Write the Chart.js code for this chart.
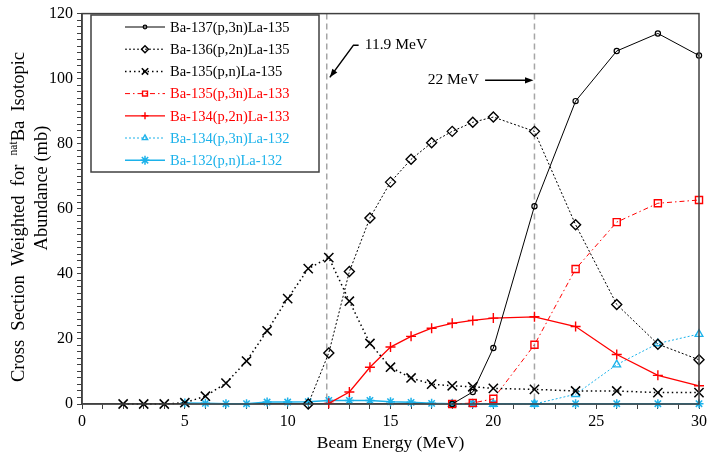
<!DOCTYPE html>
<html>
<head>
    <meta charset="utf-8" />
    <style>
        html, body { margin: 0; padding: 0; background: #fff; }
        #wrap { width: 710px; height: 458px; }
    </style>
</head>
<body>
    <div id="wrap"><canvas id="chart" width="710" height="458"></canvas></div>

    <script src="https://cdn.jsdelivr.net/npm/chart.js"></script>
    <script type="text/javascript">
        // Energias (MeV) y secciones eficaces (mb) de cada reaccion
        var e137 = [18, 19, 20, 22, 24, 26, 28, 30];
        var s137 = [0, 3.7, 17.2, 60.8, 93.1, 108.5, 113.9, 107.1];

        var e136 = [11, 12, 13, 14, 15, 16, 17, 18, 19, 20, 22, 24, 26, 28, 30];
        var s136 = [0, 15.7, 40.7, 57.2, 68.2, 75.2, 80.3, 83.8, 86.6, 88.2, 83.8, 55.1, 30.6, 18.4, 13.6];

        var e135n = [2, 3, 4, 5, 6, 7, 8, 9, 10, 11, 12, 13, 14, 15, 16, 17, 18, 19, 20, 22, 24, 26, 28, 30];
        var s135n = [0, 0, 0, 0.4, 2.4, 6.4, 13.2, 22.5, 32.4, 41.6, 45.0, 31.6, 18.6, 11.3, 8.0, 6.1, 5.6, 5.3, 4.8, 4.5, 4.0, 4.0, 3.5, 3.5];

        var e135 = [18, 19, 20, 22, 24, 26, 28, 30];
        var s135 = [0, 0.3, 1.6, 18.2, 41.5, 55.9, 61.7, 62.7];

        var e134 = [12, 13, 14, 15, 16, 17, 18, 19, 20, 22, 24, 26, 28, 30];
        var s134 = [0.2, 3.7, 11.3, 17.5, 20.8, 23.3, 24.8, 25.7, 26.4, 26.8, 23.8, 15.2, 8.8, 5.6];

        var e134b = [18, 19, 20, 22, 24, 26, 28, 30];
        var s134b = [0, 0, 0, 0, 3.0, 12.1, 18.6, 21.5];

        var e132 = [5, 6, 7, 8, 9, 10, 11, 12, 13, 14, 15, 16, 17, 18, 19, 20, 22, 24, 26, 28, 30];
        var s132 = [0.3, 0.2, 0.1, 0.1, 0.6, 0.6, 0.7, 1.1, 1.1, 1.1, 0.7, 0.5, 0.2, 0.1, 0.1, 0.1, 0.1, 0.1, 0.1, 0.1, 0.1];

        var nombres = ['Ba-137(p,3n)La-135', 'Ba-136(p,2n)La-135', 'Ba-135(p,n)La-135',
            'Ba-135(p,3n)La-133', 'Ba-134(p,2n)La-133', 'Ba-134(p,3n)La-132', 'Ba-132(p,n)La-132'];

        // Energias marcadas con lineas verticales
        var marcas = [11.9, 22];

        var negro = '#000000';
        var rojo = '#ff0000';
        var cian = '#1cb2ea';
        var serif = "'Liberation Serif', 'Times New Roman', serif";

        function puntos(xs, ys) {
            return xs.map(function (x, i) { return { x: x, y: ys[i] }; });
        }

        function serie(i, xs, ys, color, dash, ancho, estilo, radio, bw) {
            return {
                label: nombres[i],
                data: puntos(xs, ys),
                showLine: true,
                borderColor: color,
                borderWidth: ancho,
                borderDash: dash,
                pointStyle: estilo,
                pointRadius: radio,
                pointBorderColor: color,
                pointBackgroundColor: 'rgba(0,0,0,0)',
                pointBorderWidth: bw,
                clip: false,
                tension: 0
            };
        }

        var datasets = [
            serie(0, e137, s137, negro, [], 1, 'circle', 2.6, 1.2),
            serie(1, e136, s136, negro, [2, 2], 1, 'rectRot', 5, 1.4),
            serie(2, e135n, s135n, negro, [1.5, 3], 1.5, 'crossRot', 6.5, 1.5),
            serie(3, e135, s135, rojo, [5, 3, 1.5, 3], 1, 'rect', 5, 1.4),
            serie(4, e134, s134, rojo, [], 1.3, 'cross', 5, 1.4),
            serie(5, e134b, s134b, cian, [2, 2], 1, 'triangle', 4.5, 1.3),
            serie(6, e132, s132, cian, [], 1.5, 'star', 4.5, 1.5)
        ];

        // Marco, lineas verticales, flechas, leyenda y titulos
        var extras = {
            id: 'extras',
            beforeDatasetsDraw: function (chart) {
                var ctx = chart.ctx, a = chart.chartArea, xs = chart.scales.x;
                ctx.save();
                ctx.strokeStyle = '#a6a6a6';
                ctx.lineWidth = 1.5;
                ctx.setLineDash([6, 4]);
                marcas.forEach(function (m) {
                    var px = xs.getPixelForValue(m);
                    ctx.beginPath();
                    ctx.moveTo(px, a.top);
                    ctx.lineTo(px, a.bottom);
                    ctx.stroke();
                });
                ctx.restore();
            },
            afterDraw: function (chart) {
                var ctx = chart.ctx, a = chart.chartArea;
                var xs = chart.scales.x, ys = chart.scales.y;
                ctx.save();

                // marco del area
                ctx.strokeStyle = '#404040';
                ctx.lineWidth = 1.5;
                ctx.strokeRect(a.left, a.top, a.right - a.left, a.bottom - a.top);

                // flechas
                function punta(x0, y0, x1, y1) {
                    var ang = Math.atan2(y1 - y0, x1 - x0), l = 9;
                    ctx.beginPath();
                    ctx.moveTo(x1, y1);
                    ctx.lineTo(x1 - l * Math.cos(ang - 0.35), y1 - l * Math.sin(ang - 0.35));
                    ctx.lineTo(x1 - l * Math.cos(ang + 0.35), y1 - l * Math.sin(ang + 0.35));
                    ctx.closePath();
                    ctx.fill();
                }
                ctx.strokeStyle = '#000';
                ctx.fillStyle = '#000';
                ctx.lineWidth = 1.5;
                var p1 = [xs.getPixelForValue(13.45), ys.getPixelForValue(110.3)];
                var p2 = [xs.getPixelForValue(13.2), ys.getPixelForValue(110.3)];
                var p3 = [xs.getPixelForValue(12.05), ys.getPixelForValue(100.4)];
                ctx.beginPath();
                ctx.moveTo(p1[0], p1[1]);
                ctx.lineTo(p2[0], p2[1]);
                ctx.lineTo(p3[0], p3[1]);
                ctx.stroke();
                punta(p2[0], p2[1], p3[0], p3[1]);

                var q1 = [xs.getPixelForValue(19.6), ys.getPixelForValue(99.5)];
                var q2 = [xs.getPixelForValue(21.95), ys.getPixelForValue(99.5)];
                ctx.beginPath();
                ctx.moveTo(q1[0], q1[1]);
                ctx.lineTo(q2[0] - 4, q2[1]);
                ctx.stroke();
                punta(q1[0], q1[1], q2[0], q2[1]);

                ctx.font = '15.5px ' + serif;
                ctx.textBaseline = 'middle';
                ctx.textAlign = 'left';
                ctx.fillText('11.9 MeV', xs.getPixelForValue(13.75), ys.getPixelForValue(110.3));
                ctx.textAlign = 'right';
                ctx.fillText('22 MeV', xs.getPixelForValue(19.3), ys.getPixelForValue(99.5));

                // leyenda
                var lx = 91, ly = 15, lw = 228, lh = 157;
                ctx.fillStyle = '#fff';
                ctx.fillRect(lx, ly, lw, lh);
                ctx.strokeStyle = '#404040';
                ctx.lineWidth = 1.5;
                ctx.strokeRect(lx, ly, lw, lh);
                ctx.font = '14.5px ' + serif;
                ctx.textAlign = 'left';
                chart.data.datasets.forEach(function (ds, i) {
                    var y = ly + 12 + i * 22.2;
                    ctx.save();
                    ctx.strokeStyle = ds.borderColor;
                    ctx.lineWidth = ds.borderWidth;
                    ctx.setLineDash(ds.borderDash);
                    ctx.beginPath();
                    ctx.moveTo(125, y);
                    ctx.lineTo(165, y);
                    ctx.stroke();
                    ctx.setLineDash([]);
                    ctx.lineWidth = ds.pointBorderWidth;
                    ctx.fillStyle = 'rgba(0,0,0,0)';
                    var r = ds.pointStyle === 'star' ? 4.5 : ds.pointRadius * 0.7;
                    Chart.helpers.drawPoint(ctx, {
                        pointStyle: ds.pointStyle, rotation: 0,
                        radius: r, borderWidth: ds.pointBorderWidth
                    }, 145, y);
                    ctx.restore();
                    ctx.fillStyle = ds.borderColor;
                    ctx.fillText(ds.label, 170, y + 1);
                });

                // titulo del eje x
                ctx.fillStyle = '#000';
                ctx.font = '17.5px ' + serif;
                ctx.textAlign = 'center';
                ctx.fillText('Beam Energy (MeV)', (a.left + a.right) / 2, 443);

                // titulo del eje y (dos lineas, con superindice)
                ctx.translate(19, 217);
                ctx.rotate(-Math.PI / 2);
                ctx.textAlign = 'left';
                var f = '18.5px ' + serif, fs = '11.5px ' + serif;
                var t1 = 'Cross  Section  Weighted  for  ', t2 = 'nat', t3 = 'Ba  Isotopic';
                ctx.font = f;
                var w1 = ctx.measureText(t1).width, w3 = ctx.measureText(t3).width;
                ctx.font = fs;
                var w2 = ctx.measureText(t2).width;
                var x0 = -(w1 + w2 + w3) / 2;
                ctx.font = f;
                ctx.fillText(t1, x0, 0);
                ctx.font = fs;
                ctx.fillText(t2, x0 + w1, -5);
                ctx.font = f;
                ctx.fillText(t3, x0 + w1 + w2, 0);
                ctx.textAlign = 'center';
                ctx.fillText('Abundance (mb)', 29, 23);
                ctx.restore();
            }
        };

        new Chart(document.getElementById('chart').getContext('2d'), {
            type: 'scatter',
            data: { datasets: datasets },
            options: {
                responsive: false,
                animation: false,
                devicePixelRatio: 1,
                layout: { padding: { left: 0, right: 9, top: 9, bottom: 0 } },
                plugins: { legend: { display: false }, tooltip: { enabled: false } },
                scales: {
                    x: {
                        type: 'linear', min: 0, max: 30,
                        afterFit: function (s) { s.height = 54; },
                        grid: { drawOnChartArea: false, tickLength: 5, color: '#404040' },
                        border: { color: '#404040', width: 1.5 },
                        ticks: {
                            stepSize: 1, autoSkip: false, maxRotation: 0, padding: 3,
                            color: '#000', font: { family: serif, size: 16 },
                            callback: function (v) { return v % 5 === 0 ? v : ''; }
                        }
                    },
                    y: {
                        type: 'linear', min: 0, max: 120,
                        afterFit: function (s) { s.width = 82; },
                        grid: { drawOnChartArea: false, tickLength: 5, color: '#404040' },
                        border: { color: '#404040', width: 1.5 },
                        ticks: {
                            stepSize: 2, autoSkip: false, padding: 4,
                            color: '#000', font: { family: serif, size: 16 },
                            callback: function (v) { return v % 20 === 0 ? v : ''; }
                        }
                    }
                }
            },
            plugins: [extras]
        });
    </script>
</body>
</html>
